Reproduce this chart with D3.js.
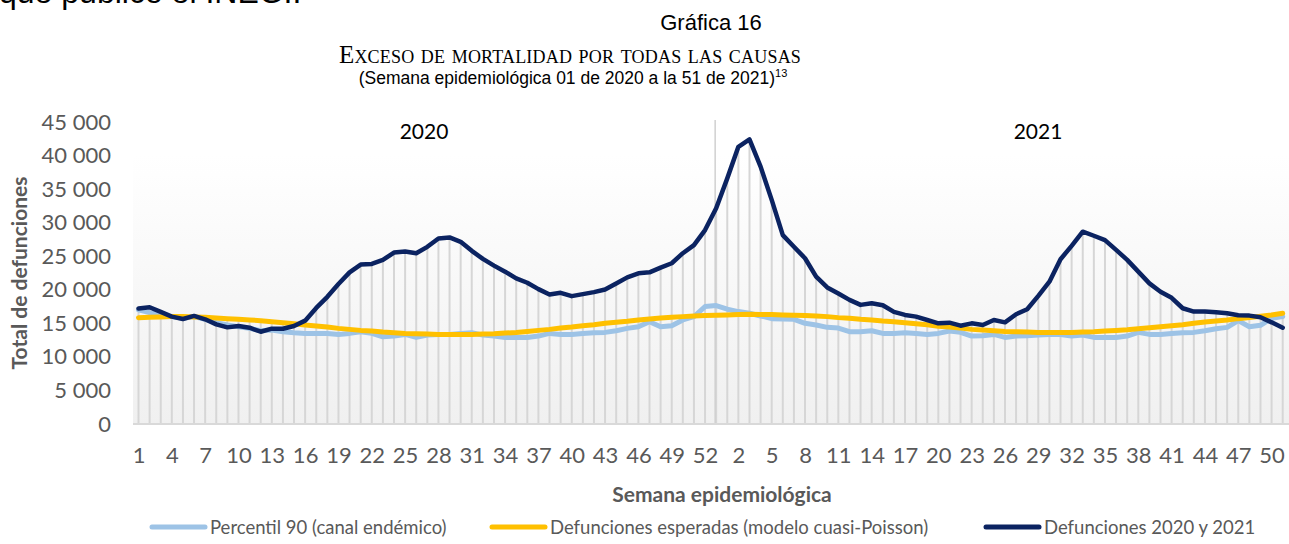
<!DOCTYPE html>
<html>
<head>
<meta charset="utf-8">
<script src="https://cdn.jsdelivr.net/npm/d3@7"></script>
<style>
  body { margin: 0; background: #fff; }
  svg { display: block; }
</style>
</head>
<body>
<svg id="chart" width="1289" height="544"></svg>
<script>
// semanas epidemiológicas: 2020 tiene 53 semanas, 2021 llega a la 51
var weeks2020 = d3.range(1, 54);
var weeks2021 = d3.range(1, 52);
var weekLabels = weeks2020.concat(weeks2021);

var yTicks = [0, 5000, 10000, 15000, 20000, 25000, 30000, 35000, 40000, 45000];

// Percentil 90 (canal endémico)
var percentil90 = [
  17000, 16600, 16250, 16000, 15750, 16000, 15600, 15100, 14750, 14500,
  14250, 13900, 14000, 13750, 13600, 13500, 13500, 13500, 13350, 13500,
  13750, 13500, 13000, 13100, 13350, 12900, 13250, 13350, 13350, 13500,
  13600, 13250, 13100, 12900, 12900, 12900, 13100, 13500, 13350, 13350,
  13500, 13600, 13650, 13900, 14250, 14500, 15250, 14500, 14650, 15500,
  16000, 17500, 17650,
  17100, 16750, 16500, 16100, 15700, 15650, 15600, 15000, 14750, 14400,
  14300, 13750, 13750, 13900, 13500, 13500, 13600, 13500, 13350, 13500,
  13850, 13650, 13100, 13150, 13350, 12900, 13100, 13150, 13250, 13350,
  13350, 13100, 13250, 12900, 12900, 12900, 13100, 13650, 13350, 13350,
  13500, 13600, 13650, 13900, 14200, 14400, 15400, 14500, 14700, 15750,
  16000
];

// Defunciones esperadas (modelo cuasi-Poisson)
var esperadas = [
  15850, 15900, 15950, 16000, 16000, 15950, 15900, 15800, 15700, 15600,
  15500, 15400, 15250, 15100, 14950, 14750, 14600, 14450, 14250, 14100,
  13950, 13850, 13700, 13600, 13500, 13450, 13400, 13350, 13350, 13350,
  13350, 13400, 13450, 13550, 13650, 13800, 13950, 14100, 14300, 14450,
  14650, 14800, 15000, 15150, 15300, 15500, 15650, 15800, 15900, 16000,
  16100, 16150, 16200,
  16250, 16300, 16350, 16300, 16300, 16250, 16200, 16150, 16100, 16000,
  15850, 15750, 15600, 15500, 15350, 15250, 15100, 14950, 14800, 14550,
  14450, 14300, 14100, 14000, 13900, 13800, 13750, 13700, 13650, 13650,
  13650, 13650, 13700, 13750, 13850, 13950, 14050, 14200, 14350, 14500,
  14650, 14800, 15000, 15200, 15350, 15500, 15700, 15850, 16050, 16250,
  16500
];

// Defunciones 2020 y 2021
var defunciones = [
  17200, 17400, 16700, 16000, 15650, 16100, 15600, 14850, 14400, 14600,
  14350, 13750, 14200, 14200, 14600, 15400, 17300, 18950, 20850, 22600,
  23750, 23850, 24450, 25550, 25700, 25450, 26400, 27650, 27800, 27150,
  25800, 24600, 23600, 22700, 21700, 21050, 20100, 19300, 19550, 19050,
  19350, 19650, 20050, 20950, 21850, 22450, 22600, 23300, 23950, 25450,
  26650, 28900, 32150,
  36600, 41300, 42400, 38350, 33400, 28150, 26400, 24700, 21950, 20350,
  19450, 18500, 17750, 18000, 17700, 16700, 16250, 16000, 15500, 15000,
  15100, 14650, 15000, 14750, 15500, 15150, 16350, 17100, 19100, 21200,
  24550, 26550, 28650, 28050, 27400, 25950, 24450, 22700, 20950, 19700,
  18800, 17250, 16750, 16750, 16650, 16500, 16200, 16150, 15900, 15150,
  14350
];

var series = [
  {name: "Percentil 90 (canal endémico)", values: percentil90, color: "#9dc3e6", width: 5},
  {name: "Defunciones esperadas (modelo cuasi-Poisson)", values: esperadas, color: "#ffc000", width: 5},
  {name: "Defunciones 2020 y 2021", values: defunciones, color: "#0b2361", width: 4.5}
];

var svg = d3.select("#chart");
var width = +svg.attr("width");

var idx = d3.range(weekLabels.length);

var x = d3.scalePoint()
    .domain(idx)
    .range([138.5, 1282.7]);

var y = d3.scaleLinear()
    .domain([0, 45000])
    .range([424, 122]);

// texto cortado de la página anterior
svg.append("text")
    .attr("x", -1).attr("y", 3)
    .style("font-family", "'Liberation Sans', Arial, sans-serif")
    .style("font-size", "32px")
    .attr("fill", "#000")
    .text("que publicó el INEGI.");

// títulos
svg.append("text")
    .attr("x", 711).attr("y", 30)
    .attr("text-anchor", "middle")
    .style("font-family", "'Liberation Sans', Arial, sans-serif")
    .style("font-size", "22px")
    .text("Gráfica 16");

svg.append("text")
    .attr("x", 570).attr("y", 63)
    .attr("text-anchor", "middle")
    .style("font-family", "'Liberation Serif', 'Times New Roman', serif")
    .style("font-size", "25px")
    .style("letter-spacing", "0.2px")
    .style("font-variant", "small-caps")
    .text("Exceso de mortalidad por todas las causas");

var sub = svg.append("text")
    .attr("x", 573).attr("y", 84)
    .attr("text-anchor", "middle")
    .style("font-family", "'Liberation Sans', Arial, sans-serif")
    .style("font-size", "17.5px");
sub.append("tspan").text("(Semana epidemiológica 01 de 2020 a la 51 de 2021)");
sub.append("tspan").attr("dy", -7).style("font-size", "11px").text("13");

// fondo del área de trazado con degradado
var defs = svg.append("defs");
var grad = defs.append("linearGradient")
    .attr("id", "bg")
    .attr("x1", 0).attr("y1", 0).attr("x2", 0).attr("y2", 1);
grad.append("stop").attr("offset", "0%").attr("stop-color", "#ffffff");
grad.append("stop").attr("offset", "100%").attr("stop-color", "#f0f0f0");

svg.append("rect")
    .attr("x", 133).attr("y", y(40000))
    .attr("width", width - 133).attr("height", y(0) - y(40000))
    .attr("fill", "url(#bg)");

// líneas de proyección (drop lines) hasta el máximo de las tres series
svg.append("g")
  .selectAll("line")
  .data(idx)
  .enter().append("line")
    .attr("x1", function(i) { return x(i); })
    .attr("x2", function(i) { return x(i); })
    .attr("y1", y(0))
    .attr("y2", function(i) {
        return y(d3.max(series, function(s) { return s.values[i]; }));
    })
    .attr("stroke", "#d6d6d6")
    .attr("stroke-width", 2);

// separador entre años
svg.append("line")
    .attr("x1", x(weeks2020.length - 1) - 1).attr("x2", x(weeks2020.length - 1) - 1)
    .attr("y1", 120).attr("y2", y(0))
    .attr("stroke", "#d0d0d0")
    .attr("stroke-width", 1.5);

// eje x (línea base)
svg.append("line")
    .attr("x1", 133).attr("x2", width)
    .attr("y1", y(0)).attr("y2", y(0))
    .attr("stroke", "#d9d9d9")
    .attr("stroke-width", 2);

// etiquetas de año
svg.append("text")
    .attr("x", 424).attr("y", 139)
    .attr("text-anchor", "middle")
    .style("font-family", "Lato, 'Open Sans', sans-serif")
    .style("font-size", "21px")
    .text("2020");
svg.append("text")
    .attr("x", 1038).attr("y", 139)
    .attr("text-anchor", "middle")
    .style("font-family", "Lato, 'Open Sans', sans-serif")
    .style("font-size", "21px")
    .text("2021");

// series
var line = d3.line()
    .x(function(d, i) { return x(i); })
    .y(function(d) { return y(d); });

svg.selectAll(".serie")
    .data(series)
    .enter().append("path")
    .attr("class", "serie")
    .attr("d", function(s) { return line(s.values); })
    .attr("fill", "none")
    .attr("stroke", function(s) { return s.color; })
    .attr("stroke-width", function(s) { return s.width; })
    .attr("stroke-linejoin", "round")
    .attr("stroke-linecap", "round");

// ejes
var fmt = function(d) { return d3.format(",")(d).replace(/,/g, " "); };

var yAxis = svg.append("g")
    .attr("transform", "translate(111,0)")
    .call(d3.axisLeft(y).tickValues(yTicks).tickFormat(fmt).tickSize(0).tickPadding(0));

var xAxis = svg.append("g")
    .attr("transform", "translate(0," + y(0) + ")")
    .call(d3.axisBottom(x)
        .tickValues(idx.filter(function(i) { return i % 3 === 0; }))
        .tickFormat(function(i) { return weekLabels[i]; })
        .tickSize(0).tickPadding(23));

[yAxis, xAxis].forEach(function(g) {
    g.select(".domain").remove();
    g.selectAll("text")
        .style("font-family", "Lato, 'Open Sans', sans-serif")
        .style("font-size", "22px")
        .attr("fill", "#595959");
});

// títulos de ejes
svg.append("text")
    .attr("transform", "translate(27,273) rotate(-90)")
    .attr("text-anchor", "middle")
    .style("font-family", "Lato, 'Open Sans', sans-serif")
    .style("font-size", "21px")
    .style("font-weight", "bold")
    .attr("fill", "#595959")
    .text("Total de defunciones");

svg.append("text")
    .attr("x", 722).attr("y", 502)
    .attr("text-anchor", "middle")
    .style("font-family", "Lato, 'Open Sans', sans-serif")
    .style("font-size", "21px")
    .style("font-weight", "bold")
    .attr("fill", "#595959")
    .text("Semana epidemiológica");

// leyenda
var legendX = [152, 492, 986];
var legend = svg.selectAll(".leg")
    .data(series)
    .enter().append("g")
    .attr("class", "leg")
    .attr("transform", function(s, i) { return "translate(" + legendX[i] + ",527)"; });

legend.append("line")
    .attr("x1", 0).attr("x2", 53)
    .attr("stroke", function(s) { return s.color; })
    .attr("stroke-width", 5)
    .attr("stroke-linecap", "round");

legend.append("text")
    .attr("x", 58).attr("y", 6.5)
    .style("font-family", "Lato, 'Open Sans', sans-serif")
    .style("font-size", "18.5px")
    .attr("fill", "#595959")
    .text(function(s) { return s.name; });
</script>
</body>
</html>
